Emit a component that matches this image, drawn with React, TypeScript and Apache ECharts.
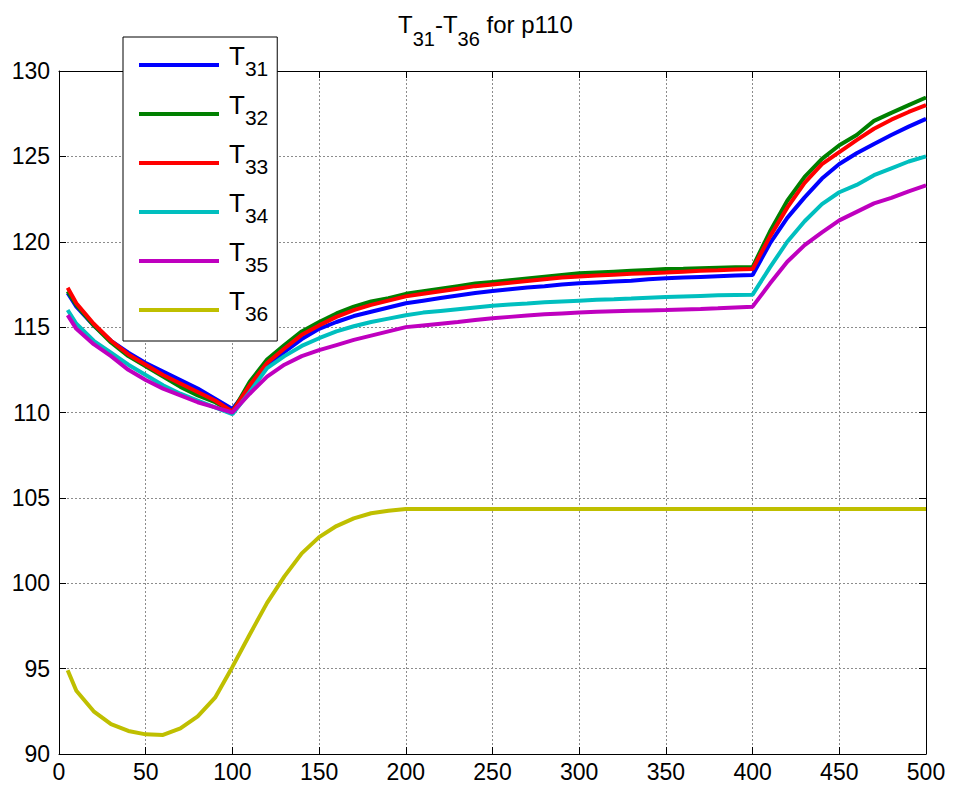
import React, { useEffect, useRef } from "react";
import * as echarts from "echarts";

const xValues = [5, 10, 20, 30, 40, 50, 60, 70, 80, 90, 100, 110, 120, 130, 140, 150, 160, 170, 180, 190, 200, 210, 220, 230, 240, 250, 260, 270, 280, 290, 300, 310, 320, 330, 340, 350, 360, 370, 380, 390, 400, 410, 420, 430, 440, 450, 460, 470, 480, 490, 500];

const seriesNames = ["T31", "T32", "T33", "T34", "T35", "T36"];

const t31 = [117.0, 116.2, 115.1, 114.2, 113.5, 112.9, 112.4, 111.9, 111.4, 110.8, 110.2, 111.5, 112.7, 113.55, 114.3, 114.9, 115.3, 115.65, 115.9, 116.15, 116.4, 116.55, 116.7, 116.85, 117.0, 117.12, 117.22, 117.32, 117.4, 117.5, 117.57, 117.62, 117.67, 117.72, 117.8, 117.86, 117.9, 117.94, 117.98, 118.02, 118.05, 119.9, 121.4, 122.6, 123.7, 124.55, 125.18, 125.73, 126.25, 126.74, 127.2];
const t32 = [117.1, 116.3, 115.1, 114.1, 113.3, 112.7, 112.1, 111.5, 111.0, 110.6, 110.05, 111.8, 113.1, 113.95, 114.75, 115.3, 115.8, 116.2, 116.5, 116.7, 116.95, 117.1, 117.25, 117.4, 117.55, 117.65, 117.75, 117.85, 117.95, 118.05, 118.15, 118.2, 118.25, 118.3, 118.35, 118.4, 118.42, 118.45, 118.48, 118.5, 118.52, 120.6, 122.4, 123.8, 124.85, 125.65, 126.25, 127.08, 127.55, 128.0, 128.45];
const t33 = [117.3, 116.4, 115.2, 114.2, 113.4, 112.8, 112.2, 111.7, 111.2, 110.7, 110.05, 111.6, 112.9, 113.75, 114.55, 115.1, 115.6, 116.0, 116.3, 116.55, 116.8, 116.95, 117.1, 117.25, 117.4, 117.5, 117.6, 117.7, 117.8, 117.9, 117.96, 118.02, 118.07, 118.12, 118.16, 118.2, 118.25, 118.3, 118.33, 118.37, 118.4, 120.3, 122.0, 123.45, 124.55, 125.25, 125.95, 126.62, 127.15, 127.6, 128.0];
const t34 = [116.0, 115.2, 114.2, 113.5, 112.8, 112.2, 111.6, 111.1, 110.7, 110.3, 109.9, 111.2, 112.6, 113.3, 113.9, 114.35, 114.75, 115.05, 115.3, 115.5, 115.7, 115.85, 115.95, 116.05, 116.15, 116.25, 116.32, 116.38, 116.45, 116.5, 116.55, 116.6, 116.63, 116.67, 116.72, 116.77, 116.8, 116.83, 116.86, 116.88, 116.9, 118.5, 120.0, 121.2, 122.2, 122.9, 123.33, 123.9, 124.3, 124.7, 125.0];
const t35 = [115.7, 114.9, 114.0, 113.3, 112.5, 111.9, 111.4, 111.0, 110.6, 110.3, 110.0, 111.1, 112.1, 112.8, 113.3, 113.65, 113.95, 114.25, 114.5, 114.75, 115.0, 115.1, 115.2, 115.3, 115.42, 115.52, 115.6, 115.68, 115.75, 115.8, 115.85, 115.9, 115.93, 115.96, 115.98, 116.0, 116.03, 116.06, 116.1, 116.15, 116.2, 117.55, 118.83, 119.8, 120.55, 121.25, 121.75, 122.25, 122.57, 122.95, 123.3];
const t36 = [94.9, 93.7, 92.5, 91.75, 91.35, 91.15, 91.12, 91.5, 92.2, 93.3, 95.1, 97.0, 98.85, 100.4, 101.75, 102.7, 103.35, 103.8, 104.1, 104.25, 104.35, 104.35, 104.35, 104.35, 104.35, 104.35, 104.35, 104.35, 104.35, 104.35, 104.35, 104.35, 104.35, 104.35, 104.35, 104.35, 104.35, 104.35, 104.35, 104.35, 104.35, 104.35, 104.35, 104.35, 104.35, 104.35, 104.35, 104.35, 104.35, 104.35, 104.35];

const seriesColors = ["#0000FF", "#008000", "#FF0000", "#00BFBF", "#BF00BF", "#BFBF00"];

const FONT = "'Liberation Sans', Arial, Helvetica, sans-serif";

export default function App() {
  const ref = useRef<HTMLDivElement>(null);
  useEffect(() => {
    if (!ref.current) return;
    const chart = echarts.init(ref.current, null, { renderer: "svg" });
    const allValues = [t31, t32, t33, t34, t35, t36];
    const series = seriesNames.map((name, i) => ({
      name,
      type: "line",
      xAxisIndex: 0,
      yAxisIndex: 0,
      data: xValues.map((x, j) => [x, allValues[i][j]]),
      showSymbol: false,
      symbol: "none",
      color: seriesColors[i],
      lineStyle: { width: 4, color: seriesColors[i] },
      z: 2 + i * 0.01,
    }));

    const frameAxis = (pos: string, showLabel: boolean, isX: boolean) => ({
      type: "value",
      position: pos,
      min: isX ? 0 : 90,
      max: isX ? 500 : 130,
      interval: isX ? 50 : 5,
      axisLine: { show: true, onZero: false, lineStyle: { color: "#000", width: 1 } },
      axisTick: { show: true, inside: true, length: 7, lineStyle: { color: "#000", width: 1 } },
      axisLabel: showLabel
        ? isX
          ? { show: true, color: "#000", fontSize: 23, fontFamily: FONT, margin: 6 }
          : { show: true, color: "#000", fontSize: 23, fontFamily: FONT, margin: 9, padding: [0, 0, 8, 0] }
        : { show: false },
      splitLine: showLabel
        ? { show: true, lineStyle: { color: "#8c8c8c", width: 1, type: [2, 2] } }
        : { show: false },
    });

    chart.setOption({
      animation: false,
      backgroundColor: "#ffffff",
      title: {
        text: "{t|T}{s|31}{t|-T}{s|36}{t| for p110}",
        left: 398,
        top: 12,
        padding: 0,
        textStyle: {
          fontFamily: FONT,
          fontWeight: "normal",
          color: "#000",
          rich: {
            t: { fontSize: 24, fontFamily: FONT, color: "#000", verticalAlign: "top" },
            s: { fontSize: 20, fontFamily: FONT, color: "#000", verticalAlign: "top", padding: [17, 0, 0, 0] },
          },
        },
      },
      legend: {
        data: seriesNames,
        orient: "vertical",
        left: 123,
        top: 37,
        padding: [6, 9, 17, 16],
        itemGap: 13,
        itemWidth: 80,
        itemHeight: 4,
        icon: "rect",
        backgroundColor: "#ffffff",
        borderColor: "#000",
        borderWidth: 1,
        borderRadius: 0,
        selectedMode: false,
        formatter: (name: string) => `{t|T}{s|${name.slice(1)}}`,
        textStyle: {
          color: "#000",
          fontFamily: FONT,
          rich: {
            t: { fontSize: 26, fontFamily: FONT, color: "#000", verticalAlign: "top", padding: [0, 0, 0, 5] },
            s: { fontSize: 21, fontFamily: FONT, color: "#000", verticalAlign: "top", padding: [15, 0, 8, 0] },
          },
        },
      },
      grid: { left: 59, right: 27, top: 71, bottom: 31, containLabel: false },
      xAxis: [frameAxis("bottom", true, true), frameAxis("top", false, true)],
      yAxis: [frameAxis("left", true, false), frameAxis("right", false, false)],
      series,
    });
    return () => chart.dispose();
  }, []);
  return (
    <div
      ref={ref}
      style={{ position: "absolute", left: 0, top: 0, width: 953, height: 785 }}
    />
  );
}
